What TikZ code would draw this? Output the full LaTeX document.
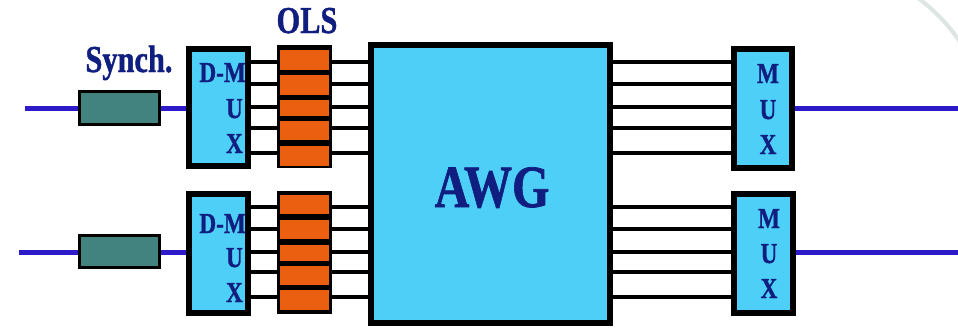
\documentclass[tikz,border=0pt]{standalone}
\usepackage{graphicx}
\usepackage{fontspec}
\setmainfont{Liberation Serif}[BoldFeatures={FakeBold=1.2}]
\definecolor{boxblue}{RGB}{77,207,248}
\definecolor{olsorange}{RGB}{234,96,16}
\definecolor{synchteal}{RGB}{67,131,127}
\definecolor{fiber}{RGB}{46,26,200}
\definecolor{navy}{RGB}{16,30,128}
\definecolor{haze}{RGB}{222,230,228}
\tikzset{
  unit/.style={draw=black, line width=4pt, fill=boxblue, inner sep=0pt, rectangle},
  synchbox/.style={draw=black, line width=3pt, fill=synchteal, inner sep=0pt, rectangle},
  olsframe/.style={fill=black, inner sep=0pt, rectangle},
  olscell/.style={fill=olsorange, inner sep=0pt, rectangle},
  wdm/.style={draw=black, line width=4pt},
  fiberline/.style={draw=fiber, line width=5pt},
  lbl/.style={text=navy, inner sep=0pt, font=\bfseries\fontsize{29}{29}\selectfont},
  biglbl/.style={text=navy, inner sep=0pt, font=\bfseries\fontsize{38}{38}\selectfont},
}
\newcommand{\cond}[1]{\scalebox{0.8}[1]{#1}}
\begin{document}
\begin{tikzpicture}[x=1pt,y=-1pt]
\useasboundingbox (0,0) rectangle (958,327);
\fill[white] (0,0) rectangle (958,327);
% faint background arc
\draw[haze, line width=4pt] (918,-2) .. controls (934,10) and (948,24) .. (960,42);

% main blocks
\node[unit, minimum width=57pt, minimum height=115pt] (dmuxT) at (218.5,107.5) {};
\node[unit, minimum width=57pt, minimum height=117pt] (dmuxB) at (218.5,253.5) {};
\node[unit, minimum width=237pt, minimum height=276pt] (awg) at (490.5,184) {};
\node[unit, minimum width=56pt, minimum height=117pt] (muxT) at (763,108.5) {};
\node[unit, minimum width=57pt, minimum height=117pt] (muxB) at (763.5,253.5) {};

% synchronisers
\node[synchbox, minimum width=80pt, minimum height=33pt] (synT) at (119.5,108) {};
\node[synchbox, minimum width=80pt, minimum height=32pt] (synB) at (119.5,251) {};

% fibre lines
\coordinate (inT) at (25,108);
\coordinate (inB) at (19,252);
\coordinate (outT) at (958,108);
\coordinate (outB) at (958,252);
\draw[fiberline] (inT) -- (synT.west |- inT);
\draw[fiberline] (synT.east |- inT) -- (dmuxT.west |- inT);
\draw[fiberline] (inB) -- (synB.west |- inB);
\draw[fiberline] (synB.east |- inB) -- (dmuxB.west |- inB);
\draw[fiberline] (muxT.east |- outT) -- (outT);
\draw[fiberline] (muxB.east |- outB) -- (outB);

% wavelength channels
\foreach \y in {62,84,107,128,153} {
  \draw[wdm] (dmuxT.east |- 0,\y) -- (awg.west |- 0,\y);
  \draw[wdm] (awg.east |- 0,\y) -- (muxT.west |- 0,\y);
}
\foreach \y in {207,229,252,272,297} {
  \draw[wdm] (dmuxB.east |- 0,\y) -- (awg.west |- 0,\y);
  \draw[wdm] (awg.east |- 0,\y) -- (muxB.west |- 0,\y);
}

% redraw block borders over the channel ends
\draw[line width=4pt] (dmuxT.north west) rectangle (dmuxT.south east);
\draw[line width=4pt] (dmuxB.north west) rectangle (dmuxB.south east);
\draw[line width=4pt] (awg.north west) rectangle (awg.south east);
\draw[line width=4pt] (muxT.north west) rectangle (muxT.south east);
\draw[line width=4pt] (muxB.north west) rectangle (muxB.south east);

% OLS arrays
\node[olsframe, minimum width=55pt, minimum height=123pt] (olsT) at (304.5,106.5) {};
\node[olsframe, minimum width=55pt, minimum height=123pt] (olsB) at (304.5,252.5) {};
\foreach \a/\b [count=\i] in {50/70,75/95,100/116,121/140,146/166} {
  \node[olscell, minimum width=49pt, minimum height={\b-\a}] (olsT\i) at (304.5,{(\a+\b)/2}) {};
}
\foreach \a/\b [count=\i] in {195/214,220/239,245/261,266/285,290/310} {
  \node[olscell, minimum width=49pt, minimum height={\b-\a}] (olsB\i) at (304.5,{(\a+\b)/2}) {};
}

% labels
\node[biglbl, anchor=base] (synchlbl) at (129,72) {\cond{Synch.}};
\node[biglbl, anchor=base] (olslbl) at (307,33) {\cond{OLS}};
\node[text=navy, inner sep=0pt, anchor=base, font=\bfseries\fontsize{60}{60}\selectfont] (awglbl) at (492,207) {\cond{AWG}};

\node[lbl, anchor=base east] (dT1) at (246,82) {\cond{D-M}};
\node[lbl, anchor=base east] (dT2) at (243,118) {\cond{U}};
\node[lbl, anchor=base east] (dT3) at (243,153) {\cond{X}};
\node[lbl, anchor=base east] (dB1) at (246,233) {\cond{D-M}};
\node[lbl, anchor=base east] (dB2) at (243,267) {\cond{U}};
\node[lbl, anchor=base east] (dB3) at (243,302) {\cond{X}};

\node[lbl, anchor=base] (mT1) at (768,83) {\cond{M}};
\node[lbl, anchor=base] (mT2) at (768,119) {\cond{U}};
\node[lbl, anchor=base] (mT3) at (768,154) {\cond{X}};
\node[lbl, anchor=base] (mB1) at (769,228) {\cond{M}};
\node[lbl, anchor=base] (mB2) at (769,263) {\cond{U}};
\node[lbl, anchor=base] (mB3) at (769,298) {\cond{X}};
\end{tikzpicture}
\end{document}
